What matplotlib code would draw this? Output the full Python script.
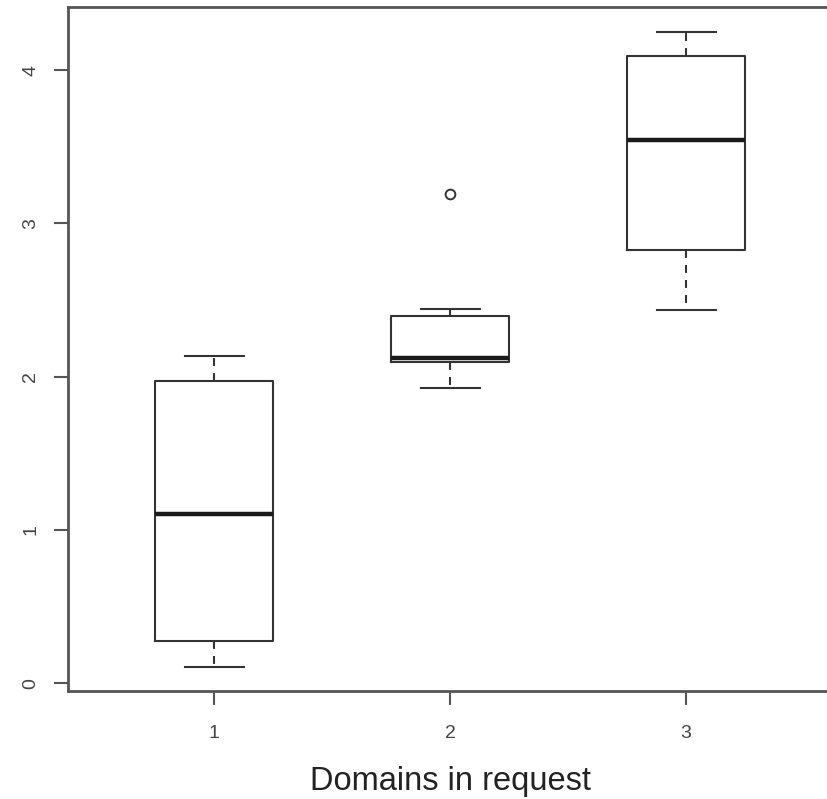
import matplotlib.pyplot as plt

# box statistics
groups = [1, 2, 3]
whis_lo = [0.107, 1.927, 2.435]
q1 = [0.275, 2.093, 2.827]
median = [1.104, 2.123, 3.542]
q3 = [1.970, 2.396, 4.092]
whis_hi = [2.135, 2.441, 4.248]
outliers = [[], [3.194], []]
xlabel = 'Domains in request'

plt.rcParams['font.family'] = ['Liberation Sans', 'DejaVu Sans']

stats = []
for i in range(len(groups)):
    stats.append({
        'label': str(groups[i]),
        'whislo': whis_lo[i], 'q1': q1[i], 'med': median[i],
        'q3': q3[i], 'whishi': whis_hi[i], 'fliers': outliers[i]})

fig = plt.figure(figsize=(8.28, 7.99), dpi=100)
# axes runs slightly past the right edge, like the cropped original
ax = fig.add_axes([0.0818, 0.1355, 0.9234, 0.8561])

line_col = '#333333'
ax.bxp(
    stats, positions=groups, widths=0.5,
    boxprops=dict(color=line_col, linewidth=1.5),
    medianprops=dict(color='#1a1a1a', linewidth=3.2),
    whiskerprops=dict(color=line_col, linewidth=1.5, linestyle=(0, (3.8, 3.4))),
    capprops=dict(color=line_col, linewidth=1.5),
    capwidths=0.25,
    flierprops=dict(marker='o', markerfacecolor='none', markeredgecolor=line_col,
                    markersize=7, markeredgewidth=1.4))

ax.set_xlim(0.379, 3.62)
ax.set_ylim(-0.05, 4.414)
ax.set_yticks([0, 1, 2, 3, 4])
ax.set_xticks(groups)
ax.set_xticklabels([str(g) for g in groups])

for s in ax.spines.values():
    s.set_color('#555555')
    s.set_linewidth(2)

ax.tick_params(axis='both', length=10, width=1.5, color='#555555',
               labelcolor='#444444', labelsize=14)
ax.tick_params(axis='x', pad=15)
ax.tick_params(axis='y', pad=10.5)
for lbl in ax.get_yticklabels():
    lbl.set_rotation(90)
    lbl.set_va('center')

ax.set_xlabel(xlabel, fontsize=23.5, color='#222222', labelpad=17)

fig.savefig('out.png', dpi=100)
